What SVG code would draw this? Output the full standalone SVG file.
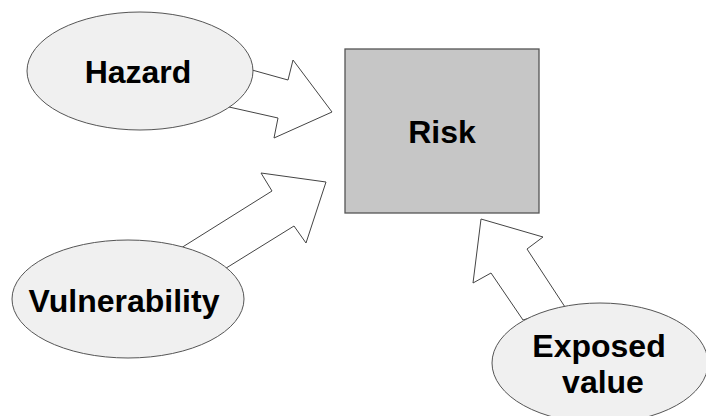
<svg xmlns="http://www.w3.org/2000/svg" width="706" height="416" viewBox="0 0 706 416">
<style>
.ell{fill:#f0f0f0;stroke:#555;stroke-width:1}
.box{fill:#c6c6c6;stroke:#555;stroke-width:1.3}
.arr{fill:#fff;stroke:#444;stroke-width:1}
.lbl{font-family:"Liberation Sans",Arial,sans-serif;font-weight:bold;font-size:32px;fill:#000;text-anchor:middle}
</style>
<rect width="706" height="416" fill="#fff"/>
<g id="connectors">
<polygon class="arr" points="229,107 252,70 288,80 293,60 332,112 274,138 278,118"/>
<polygon class="arr" points="181,248 272,191 261,173 326,182 306,243 294,226 223,270"/>
<polygon class="arr" points="523,320 491,273 473,283 481,219 543,237 527,249 565,307"/>
</g>
<g id="hazard">
<ellipse class="ell" cx="140" cy="71" rx="113" ry="59"/>
<text class="lbl" x="138" y="83">Hazard</text>
</g>
<g id="risk">
<rect class="box" x="345" y="49" width="194" height="164"/>
<text class="lbl" x="442" y="143">Risk</text>
</g>
<g id="vulnerability">
<ellipse class="ell" cx="128" cy="299" rx="116" ry="59"/>
<text class="lbl" x="124" y="312">Vulnerability</text>
</g>
<g id="exposed">
<ellipse class="ell" cx="600" cy="363" rx="108" ry="60"/>
<text class="lbl" x="599" y="357">Exposed</text>
<text class="lbl" x="603" y="393">value</text>
</g>
</svg>
